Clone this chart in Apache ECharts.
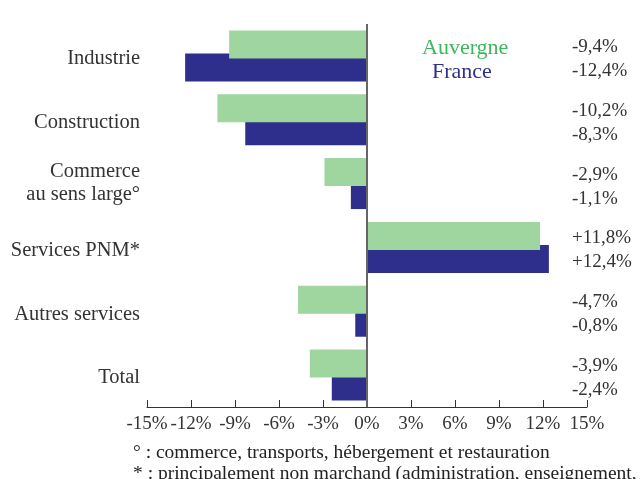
<!DOCTYPE html>
<html>
<head>
<meta charset="utf-8">
<script src="https://cdn.jsdelivr.net/npm/echarts@6/dist/echarts.min.js"></script>
<style>
  html, body { margin: 0; padding: 0; background: #fff; }
  #chart { width: 642px; height: 479px; }
</style>
</head>
<body>
<div id="chart"></div>
<script>
// secteurs (de haut en bas)
const categories = ['Industrie', 'Construction', 'Commerce\nau sens large°', 'Services PNM*', 'Autres services', 'Total'];
// évolution en %
const auvergne = [-9.4, -10.2, -2.9, 11.8, -4.7, -3.9];
const france = [-12.4, -8.3, -1.1, 12.4, -0.8, -2.4];
const xTicks = { min: -15, max: 15, step: 3 };

const serif = '"Liberation Serif", "DejaVu Serif", serif';

// -9,4%  /  +11,8%
function fmt(v) {
  const s = Math.abs(v).toFixed(1).replace('.', ',');
  return (v > 0 ? '+' : '-') + s + '%';
}

const chart = echarts.init(document.getElementById('chart'));

const option = {
  animation: false,
  grid: { left: 147, right: 55, top: 24, bottom: 72 },
  legend: [
    {
      data: [{ name: 'Auvergne', textStyle: { color: '#3cb85c' } }],
      left: 412, top: 32, itemWidth: 0, itemHeight: 0, icon: 'rect',
      textStyle: { fontFamily: serif, fontSize: 22 }
    },
    {
      data: [{ name: 'France', textStyle: { color: '#2e2e8c' } }],
      left: 422, top: 56, itemWidth: 0, itemHeight: 0, icon: 'rect',
      textStyle: { fontFamily: serif, fontSize: 22 }
    }
  ],
  xAxis: {
    type: 'value',
    min: xTicks.min,
    max: xTicks.max,
    interval: xTicks.step,
    splitLine: { show: false },
    axisLine: { show: true, lineStyle: { color: '#333', width: 1 } },
    axisTick: { show: true, inside: true, length: 7, lineStyle: { color: '#333' } },
    axisLabel: {
      formatter: '{value}%', color: '#333', fontFamily: serif, fontSize: 19, margin: 8
    }
  },
  yAxis: [
    {
      type: 'category',
      data: categories,
      inverse: true,
      axisLine: { show: false },
      axisTick: { show: false },
      axisLabel: {
        margin: 7,
        align: 'right',
        formatter: function (v) {
          const lines = v.split('\n');
          const st = lines.length > 1 ? 'd' : 'c';
          return lines.map(function (s) { return '{' + st + '|' + s + '}'; }).join('\n');
        },
        rich: {
          c: { color: '#333', fontFamily: serif, fontSize: 20.5, height: 23, padding: [6, 0, 0, 0] },
          d: { color: '#333', fontFamily: serif, fontSize: 20.5, lineHeight: 23 }
        }
      }
    },
    {
      type: 'category',
      data: categories,
      inverse: true,
      position: 'right',
      offset: -15,
      axisLine: { show: false },
      axisTick: { show: false },
      axisLabel: {
        margin: 0,
        align: 'left',
        padding: [6, 0, 0, 0],
        formatter: function (v, i) {
          return '{a|' + fmt(auvergne[i]) + '}\n{a|' + fmt(france[i]) + '}';
        },
        rich: {
          a: { color: '#333', fontFamily: serif, fontSize: 19, lineHeight: 24 }
        }
      }
    }
  ],
  series: [
    {
      name: 'Auvergne',
      type: 'bar',
      data: auvergne,
      barWidth: 28,
      barGap: '-18%',
      z: 3,
      itemStyle: { color: '#9fd59f' },
      markLine: {
        silent: true,
        symbol: 'none',
        label: { show: false },
        lineStyle: { color: '#666', width: 2, type: 'solid' },
        data: [{ xAxis: 0 }]
      }
    },
    {
      name: 'France',
      type: 'bar',
      data: france,
      barWidth: 28,
      z: 2,
      itemStyle: { color: '#2e2e8c' }
    }
  ],
  graphic: [
    {
      type: 'text', left: 133, top: 443,
      style: { text: '° : commerce, transports, hébergement et restauration', fill: '#222', font: '19.5px ' + serif }
    },
    {
      type: 'text', left: 133, top: 464,
      style: { text: '* : principalement non marchand (administration, enseignement, santé)', fill: '#222', font: '19.5px ' + serif }
    }
  ]
};

chart.setOption(option);
</script>
</body>
</html>
